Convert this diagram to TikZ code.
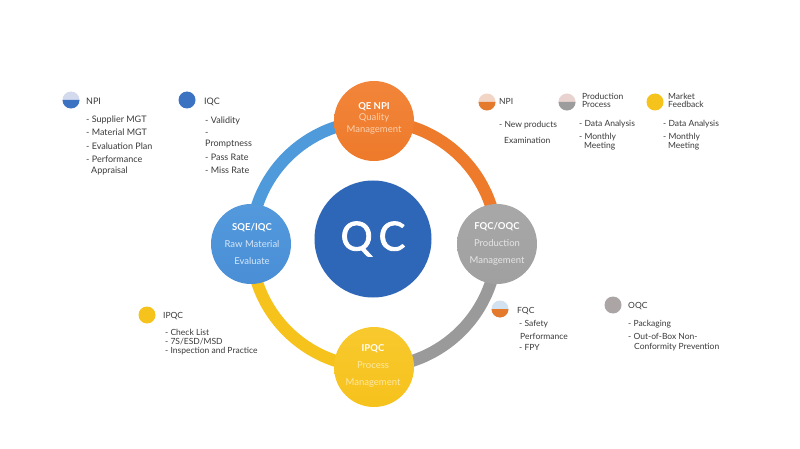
\documentclass[tikz,border=0pt]{standalone}
\usepackage{fontspec}
\setmainfont{Lato}
\definecolor{textgrey}{HTML}{3A3A3A}
\definecolor{qblue}{HTML}{4A8FD6}
\definecolor{qbluetop}{HTML}{5399DC}
\definecolor{qbluering}{HTML}{4F9ADB}
\definecolor{qorange}{HTML}{EE7A2B}
\definecolor{qorangetop}{HTML}{F2853A}
\definecolor{qgrey}{HTML}{A0A0A0}
\definecolor{qgreytop}{HTML}{A8A8A8}
\definecolor{qgreyring}{HTML}{9A9A9A}
\definecolor{qyellow}{HTML}{F6C21C}
\definecolor{qyellowtop}{HTML}{F8C92E}
\definecolor{qdark}{HTML}{2F67B8}
\definecolor{suborange}{HTML}{FAD0AE}
\definecolor{subblue}{HTML}{D6E7F8}
\definecolor{subgrey}{HTML}{E6E6E6}
\definecolor{subyellow}{HTML}{FCE9A6}
\definecolor{lavender}{HTML}{D3DAEE}
\definecolor{npiblue}{HTML}{3C72C2}
\definecolor{peach}{HTML}{F3D5C6}
\definecolor{pinkish}{HTML}{E9D3D0}
\definecolor{lightblue}{HTML}{D3E2F1}
\definecolor{iconorange}{HTML}{E47A2C}
\definecolor{icongrey}{HTML}{9C9C9C}
\definecolor{oqcgrey}{HTML}{ABA5A5}
\begin{document}
\begin{tikzpicture}[x=1pt,y=-1pt,
  txt/.style={anchor=mid west,inner sep=0,text=textgrey,font=\fontsize{8.5}{10}\selectfont},
  txtl/.style={txt,font=\fontsize{9}{10}\selectfont},
  bigc/.style={circle,minimum size=80pt,inner sep=0,outer sep=0},
  lbl/.style={align=center,inner sep=0,text=white},
  icon/.style={circle,minimum size=17pt,inner sep=0,outer sep=0},
  ring/.style={line width=12pt}]
\useasboundingbox[fill=white] (0,0) rectangle (800,449);

% main circles positions
\coordinate (rc) at (374,244);
\coordinate (Tc) at (374,121);
\coordinate (Rc) at (497,244);
\coordinate (Bc) at (374,367);
\coordinate (Lc) at (251,244);

% ring
\draw[ring,qbluering] (Lc) arc[start angle=180,end angle=270,radius=123];
\draw[ring,qorange] (Tc) arc[start angle=270,end angle=360,radius=123];
\draw[ring,qgreyring] (Rc) arc[start angle=0,end angle=90,radius=123];
\draw[ring,qyellow] (Bc) arc[start angle=90,end angle=180,radius=123];

% circles
\node[bigc,top color=qorangetop,bottom color=qorange] (T) at (Tc) {};
\node[bigc,top color=qgreytop,bottom color=qgrey] (R) at (Rc) {};
\node[bigc,top color=qyellowtop,bottom color=qyellow] (B) at (Bc) {};
\node[bigc,top color=qbluetop,bottom color=qblue] (L) at (Lc) {};
\node[circle,minimum size=117pt,inner sep=0,fill=qdark,text=white,
  font=\fontsize{40}{40}\selectfont\addfontfeature{FakeBold=2}] (QC) at (373,239) {Q\hspace{6pt}C};

% circle labels
\node[lbl,font=\fontsize{9.5}{11.5}\selectfont] (Tt) at (374,118)
  {\textbf{QE NPI}\\\textcolor{suborange}{Quality}\\\textcolor{suborange}{Management}};
\node[lbl,font=\fontsize{9.5}{17}\selectfont] (Lt) at (252,244)
  {\textbf{SQE/IQC}\\\textcolor{subblue}{Raw Material}\\\textcolor{subblue}{Evaluate}};
\node[lbl,font=\fontsize{9.5}{17}\selectfont] (Rt) at (497,243.5)
  {\textbf{FQC/OQC}\\\textcolor{subgrey}{Production}\\\textcolor{subgrey}{Management}};
\node[lbl,font=\fontsize{9.5}{17}\selectfont] (Bt) at (373,365.5)
  {\textbf{IPQC}\\\textcolor{subyellow}{Process}\\\textcolor{subyellow}{Management}};

% ---- legend: NPI (left)
\node[icon,fill=lavender] (i1) at (71,100) {};
\fill[npiblue] (i1.east) arc[start angle=0,end angle=180,radius=8.5] -- cycle;
\node[txtl] (h1) at (86,102) {NPI};
\node[txtl] (a1) at (86,120) {- Supplier MGT};
\node[txtl] (a2) at (86,133) {- Material MGT};
\node[txtl] (a3) at (86,147) {- Evaluation Plan};
\node[txtl] (a4) at (86,160) {- Performance};
\node[txtl] (a5) at (91,170.5) {Appraisal};

% ---- IQC
\node[icon,fill=npiblue] (i2) at (187,100) {};
\node[txtl] (h2) at (204,102) {IQC};
\node[txtl] (b1) at (205,121) {- Validity};
\node[txtl] (b2) at (205,133) {-};
\node[txtl] (b3) at (205,144) {Promptness};
\node[txtl] (b4) at (205,158) {- Pass Rate};
\node[txtl] (b5) at (205,171) {- Miss Rate};

% ---- NPI (right)
\node[icon,fill=peach] (i3) at (487,102) {};
\fill[iconorange] (i3.east) arc[start angle=0,end angle=180,radius=8.5] -- cycle;
\node[txt] (h3) at (499,102) {NPI};
\node[txt] (c1) at (499,125) {- New products};
\node[txt] (c2) at (504,141) {Examination};

% ---- Production Process
\node[icon,fill=pinkish] (i4) at (567,102) {};
\fill[icongrey] (i4.east) arc[start angle=0,end angle=180,radius=8.5] -- cycle;
\node[txt] (h4a) at (582,97) {Production};
\node[txt] (h4b) at (582,105) {Process};
\node[txt] (d1) at (579,124) {- Data Analysis};
\node[txt] (d2) at (579,137) {- Monthly};
\node[txt] (d3) at (584,146) {Meeting};

% ---- Market Feedback
\node[icon,fill=qyellow] (i5) at (655,102) {};
\node[txt] (h5a) at (668,97) {Market};
\node[txt] (h5b) at (668,105) {Feedback};
\node[txt] (e1) at (663,123.5) {- Data Analysis};
\node[txt] (e2) at (663,136.5) {- Monthly};
\node[txt] (e3) at (668,145.5) {Meeting};

% ---- IPQC
\node[icon,fill=qyellow] (i6) at (147,315) {};
\node[txt] (h6) at (163,316) {IPQC};
\node[txt] (f1) at (165,333) {- Check List};
\node[txt] (f2) at (165,342) {- 7S/ESD/MSD};
\node[txt] (f3) at (165,351) {- Inspection and Practice};

% ---- FQC
\node[icon,fill=lightblue] (i7) at (500,309) {};
\fill[iconorange] (i7.east) arc[start angle=0,end angle=180,radius=8.5] -- cycle;
\node[txt] (h7) at (517,311) {FQC};
\node[txt] (g1) at (519,324) {- Safety};
\node[txt] (g2) at (520,337) {Performance};
\node[txt] (g3) at (519,348) {- FPY};

% ---- OQC
\node[icon,fill=oqcgrey] (i8) at (613,305) {};
\node[txt] (h8) at (628,306) {OQC};
\node[txt] (k1) at (628,324) {- Packaging};
\node[txt] (k2) at (628,337) {- Out-of-Box Non-};
\node[txt] (k3) at (634,347) {Conformity Prevention};
\end{tikzpicture}
\end{document}
